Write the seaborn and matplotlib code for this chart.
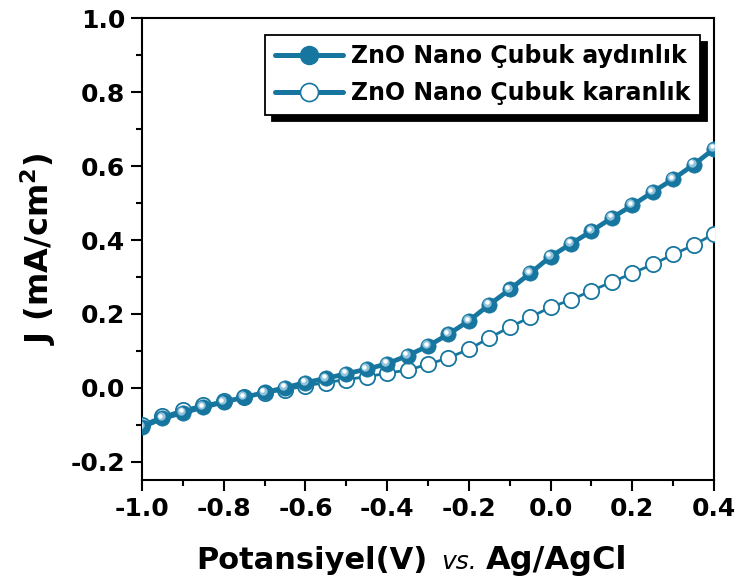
import numpy as np
import pandas as pd
import matplotlib
matplotlib.use("Agg")
import matplotlib.pyplot as plt
import matplotlib.transforms as mtransforms
from matplotlib.lines import Line2D
from matplotlib.ticker import MultipleLocator
import seaborn as sns

# Potential sweep (V vs. Ag/AgCl)
potential = [-1.00, -0.95, -0.90, -0.85, -0.80, -0.75, -0.70, -0.65, -0.60, -0.55,
             -0.50, -0.45, -0.40, -0.35, -0.30, -0.25, -0.20, -0.15, -0.10, -0.05,
             0.00, 0.05, 0.10, 0.15, 0.20, 0.25, 0.30, 0.35, 0.40]

# Current density (mA/cm2) under illumination
j_light = [-0.107, -0.083, -0.068, -0.053, -0.039, -0.026, -0.013, 0.000, 0.014, 0.025,
           0.038, 0.050, 0.065, 0.087, 0.113, 0.145, 0.181, 0.225, 0.266, 0.310,
           0.355, 0.390, 0.424, 0.460, 0.494, 0.530, 0.565, 0.604, 0.647]

# Current density (mA/cm2) in the dark
j_dark = [-0.100, -0.078, -0.060, -0.047, -0.036, -0.025, -0.015, -0.006, 0.005, 0.014,
          0.022, 0.030, 0.039, 0.048, 0.063, 0.081, 0.104, 0.135, 0.164, 0.191,
          0.218, 0.238, 0.263, 0.286, 0.310, 0.334, 0.361, 0.386, 0.417]

label_light = "ZnO Nano Çubuk aydınlık"
label_dark = "ZnO Nano Çubuk karanlık"

x_ticks = [-1.0, -0.8, -0.6, -0.4, -0.2, 0.0, 0.2, 0.4]
y_ticks = [-0.2, 0.0, 0.2, 0.4, 0.6, 0.8, 1.0]

blue = "#17769f"

sns.set_theme(style="ticks")
plt.rcParams["font.family"] = ["DejaVu Sans"]
plt.rcParams["font.weight"] = "bold"
plt.rcParams["text.color"] = "black"
plt.rcParams["axes.labelcolor"] = "black"
plt.rcParams["xtick.color"] = "black"
plt.rcParams["ytick.color"] = "black"

df = pd.DataFrame({"V": potential, "light": j_light, "dark": j_dark})

fig = plt.figure(figsize=(7.42, 5.87), dpi=100)
ax = fig.add_axes([0.1914, 0.1823, 0.7709, 0.7862])

# dark curve: open circles on a thinner line
sns.lineplot(data=df, x="V", y="dark", ax=ax, color=blue, linewidth=2.0,
             marker="o", markersize=11, markerfacecolor="white",
             markeredgecolor=blue, markeredgewidth=1.3, zorder=3)

# illuminated curve: solid spheres on a thick line
sns.lineplot(data=df, x="V", y="light", ax=ax, color=blue, linewidth=3.4,
             marker="o", markersize=11, markerfacecolor=blue,
             markeredgecolor=blue, markeredgewidth=0.5, zorder=4)

# glossy highlight on the spheres
hl1 = mtransforms.offset_copy(ax.transData, fig=fig, x=-1.4, y=1.4, units="points")
hl2 = mtransforms.offset_copy(ax.transData, fig=fig, x=-1.7, y=1.7, units="points")
ax.plot(potential, j_light, linestyle="none", marker="o", markersize=6,
        markerfacecolor="#8fc3dc", markeredgewidth=0, transform=hl1, zorder=5)
ax.plot(potential, j_light, linestyle="none", marker="o", markersize=3.2,
        markerfacecolor="white", markeredgewidth=0, transform=hl2, zorder=6)

ax.set_xlim(-1.0, 0.4)
ax.set_ylim(-0.25, 1.0)
ax.set_xticks(x_ticks)
ax.set_yticks(y_ticks)
ax.xaxis.set_minor_locator(MultipleLocator(0.1))
ax.yaxis.set_minor_locator(MultipleLocator(0.1))
ax.set_xticklabels([f"{t:.1f}" for t in x_ticks])
ax.set_yticklabels([f"{t:.1f}" for t in y_ticks])
ax.tick_params(axis="both", which="major", direction="out", length=8, width=1.5,
               labelsize=18, pad=4, colors="black")
ax.tick_params(axis="both", which="minor", direction="out", length=4.5, width=1.5)
ax.tick_params(top=False, right=False, which="both")
for lbl in ax.get_xticklabels() + ax.get_yticklabels():
    lbl.set_fontweight("bold")
for sp in ax.spines.values():
    sp.set_linewidth(1.5)
    sp.set_color("black")

ax.set_xlabel("")
ax.set_ylabel(r"J (mA/cm$^{\mathbf{2}}$)", fontsize=23, fontweight="bold",
              labelpad=9, color="black")

# x-axis title with mixed styles
fig.text(0.264, 0.031, "Potansiyel(V)", fontsize=22, fontweight="bold",
         ha="left", va="baseline", color="black")
fig.text(0.594, 0.031, "vs.", fontsize=18, fontweight="normal", style="italic",
         ha="left", va="baseline", color="black")
fig.text(0.655, 0.031, "Ag/AgCl", fontsize=23, fontweight="bold",
         ha="left", va="baseline", color="black")

handles = [
    Line2D([], [], color=blue, linewidth=3.6, marker="o", markersize=13,
           markerfacecolor=blue, markeredgecolor=blue),
    Line2D([], [], color=blue, linewidth=3.6, marker="o", markersize=13,
           markerfacecolor="white", markeredgecolor=blue, markeredgewidth=1.2),
]
leg = ax.legend(handles, [label_light, label_dark], loc="upper right",
                bbox_to_anchor=(0.976, 0.965), fontsize=17, frameon=True,
                fancybox=False, edgecolor="black", handlelength=2.9,
                borderpad=0.4, labelspacing=0.55, handletextpad=0.35,
                borderaxespad=0.0,
                shadow={"ox": 5, "oy": -5, "color": "black", "alpha": 1.0})
leg.get_frame().set_linewidth(1.3)
for t in leg.get_texts():
    t.set_fontweight("bold")
    t.set_color("black")

fig.savefig("out.png", dpi=100)
